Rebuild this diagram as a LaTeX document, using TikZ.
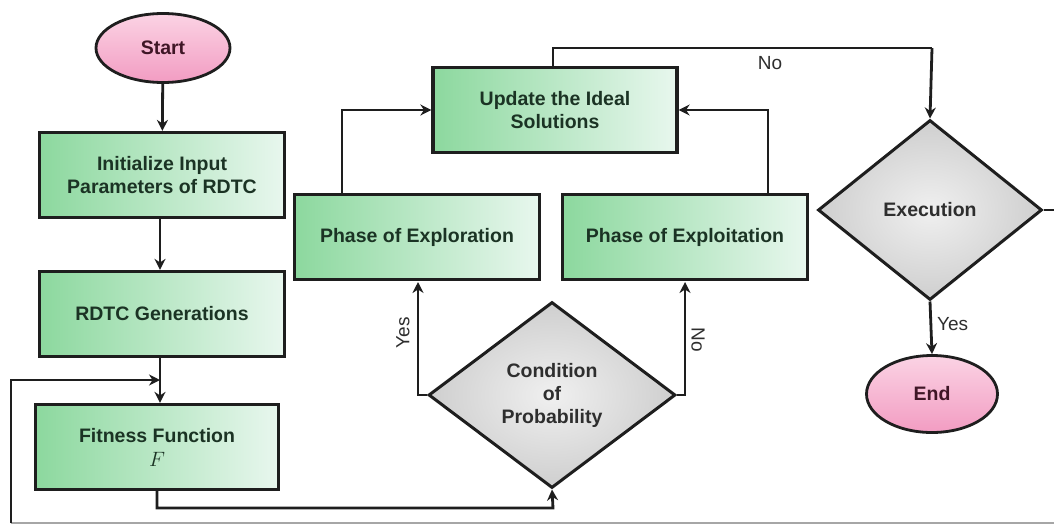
\documentclass[tikz,border=0pt]{standalone}
\usepackage{fontspec}
\setmainfont{Liberation Sans}
\usetikzlibrary{shapes.geometric,arrows.meta,shadings}
\definecolor{boxtxt}{HTML}{1B3324}
\definecolor{dmdtxt}{HTML}{2E2E2E}
\definecolor{ovltxt}{HTML}{3F1626}
\definecolor{gL}{HTML}{8CD89E}
\definecolor{gR}{HTML}{E8F7EE}
\definecolor{pT}{HTML}{FBD3E4}
\definecolor{pB}{HTML}{F29CC2}
\definecolor{lineC}{HTML}{1E1E1E}
\tikzset{
  procbox/.style={rectangle, draw=lineC, line width=3.2pt, left color=gL, right color=gR,
    inner sep=0pt, align=center, text=boxtxt, font=\fontsize{19.5}{23}\selectfont\bfseries},
  termnode/.style={ellipse, draw=lineC, line width=2.8pt, top color=pT, bottom color=pB,
    inner sep=0pt, text=ovltxt, font=\fontsize{19.5}{23}\selectfont\bfseries},
  decnode/.style={diamond, draw=lineC, line width=3pt, inner color=gray!12, outer color=gray!38,
    inner sep=0pt, align=center, text=dmdtxt, font=\fontsize{19.5}{23}\selectfont\bfseries},
  conn/.style={draw=lineC, line width=2.8pt, -{Stealth[length=11pt,width=11pt]}},
  plainconn/.style={draw=lineC, line width=2.8pt},
  lbl/.style={text=dmdtxt, font=\fontsize{19}{21}\selectfont, inner sep=1pt}
}
\begin{document}
\begin{tikzpicture}[x=1pt,y=-1pt]
\useasboundingbox (0,0) rectangle (1054,525);
\fill[white] (0,0) rectangle (1054,525);

\node[termnode, minimum width=134pt, minimum height=69pt] (start) at (163,48) {Start};
\node[procbox, minimum width=245pt, minimum height=85pt] (init) at (162,175) {Initialize Input\\Parameters of RDTC};
\node[procbox, minimum width=245pt, minimum height=85pt] (gen) at (162,314) {RDTC Generations};
\node[procbox, minimum width=243pt, minimum height=85pt] (fit) at (157,447) {Fitness Function\\[1pt]{\normalfont\fontsize{22}{22}\selectfont$F$}};
\node[decnode, minimum width=247pt, minimum height=186pt] (cond) at (552,395) {Condition\\of\\Probability};
\node[procbox, minimum width=245pt, minimum height=85pt] (explor) at (417,237) {Phase of Exploration};
\node[procbox, minimum width=245pt, minimum height=85pt] (exploit) at (685,237) {Phase of Exploitation};
\node[procbox, minimum width=244pt, minimum height=85pt] (upd) at (555,110) {Update the Ideal\\Solutions};
\node[decnode, minimum width=224pt, minimum height=180pt] (exec) at (930,210) {Execution};
\node[termnode, minimum width=131pt, minimum height=77pt] (endn) at (932,394) {End};

\coordinate (updtop) at (553,48);
\coordinate (loopR) at (1054,210);
\coordinate (loopBR) at (1054,523);
\coordinate (loopBL) at (11,523);
\coordinate (loopTL) at (11,380);
\coordinate (fitjoin) at (160,380);

% main chain
\draw[conn] (start) -- (init);
\draw[conn] (init.south -| 160,0) -- (gen.north -| 160,0);
\draw[conn] (gen.south -| 160,0) -- (fit.north -| 160,0);

% fitness to condition
\draw[conn] (fit.south) |- (553,508) -- (cond.south);

% condition branches
\draw[conn] (cond.west) -- (418,395) -- (418,282);
\node[lbl, rotate=90] (yes1) at (403,333) {Yes};
\draw[conn] (cond.east) -- (685,395) -- (685,282);
\node[lbl, rotate=-90] (no1) at (698,340) {No};

% phases to update
\draw[conn] (342,195) -- (342,110) -- (upd.west);
\draw[conn] (768,195) -- (768,110) -- (upd.east);

% update to execution
\draw[plainconn] (upd.north -| updtop) -- (updtop) -- (932,48);
\draw[conn] (932,48) -- (exec.north);
\node[lbl] (no2) at (770,63) {No};

% execution to end
\draw[conn] (exec.south) -- (endn.north);
\node[lbl, anchor=west] (yes2) at (936,324) {Yes};

% loop back
\draw[plainconn] (exec.east) -- (loopR);
\draw[draw=gray!70, line width=2.2pt] (loopBR) -- (loopBL);
\draw[conn] (loopBL) -- (loopTL) -- (fitjoin);
\end{tikzpicture}
\end{document}
